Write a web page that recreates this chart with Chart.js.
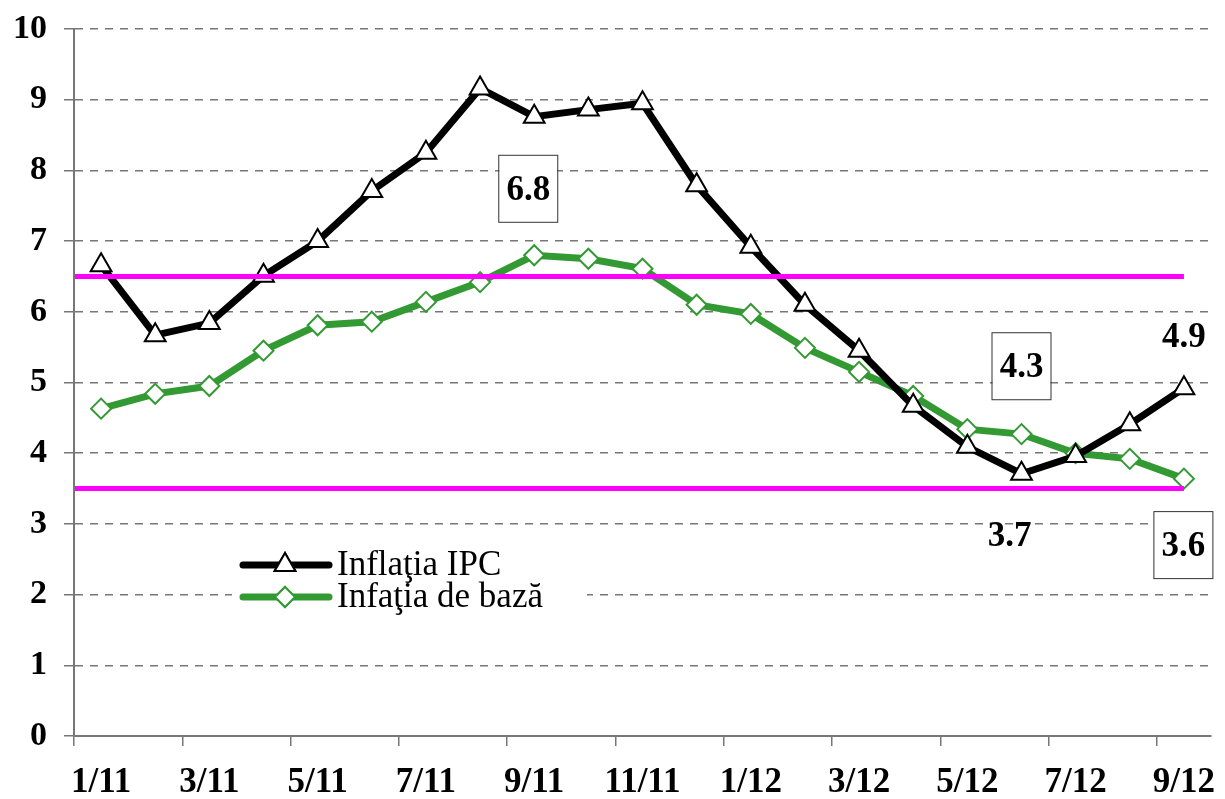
<!DOCTYPE html>
<html>
<head>
<meta charset="utf-8">
<script src="https://cdn.jsdelivr.net/npm/chart.js@4.4.1/dist/chart.umd.min.js"></script>
<style>
  html, body { margin: 0; padding: 0; background: #fff; }
  #wrap { width: 1225px; height: 799px; }
</style>
</head>
<body>
<div id="wrap"><canvas id="myChart" width="1225" height="799"></canvas></div>
<script>
// luni (ianuarie 2011 - septembrie 2012)
const months = ['1/11','2/11','3/11','4/11','5/11','6/11','7/11','8/11','9/11','10/11','11/11','12/11',
                '1/12','2/12','3/12','4/12','5/12','6/12','7/12','8/12','9/12'];
// inflatia IPC
const ipcValues = [6.66, 5.67, 5.84, 6.51, 7.00, 7.71, 8.25, 9.16, 8.76, 8.86, 8.95, 7.79,
                   6.92, 6.10, 5.45, 4.67, 4.09, 3.71, 3.96, 4.41, 4.92];
// inflatia de baza
const coreValues = [4.63, 4.84, 4.95, 5.45, 5.81, 5.86, 6.14, 6.42, 6.80, 6.75, 6.61, 6.10,
                    5.97, 5.49, 5.15, 4.81, 4.34, 4.27, 4.00, 3.92, 3.64];
// intervalul tinta
const targetBand = [3.5, 6.5];
const yTicks = [0, 1, 2, 3, 4, 5, 6, 7, 8, 9, 10];
const seriesNames = ['Inflaţia IPC', 'Infaţia de bază'];
// etichete: text, pozitie (luna, valoare), cu chenar sau nu
const noteTexts = ['6.8', '4.3', '3.6', '3.7', '4.9'];
const noteAt = [[7.89, 7.74], [17.0, 5.23], [19.99, 2.70], [16.78, 2.84], [20.0, 5.66]];
const noteBoxed = [true, true, true, false, false];

const FONT = '"Liberation Serif", "Times New Roman", serif';
const GREEN = '#339933';

const extras = {
  id: 'extras',
  afterDatasetsDraw(chart) {
    const ctx = chart.ctx, x = chart.scales.x, y = chart.scales.y;
    ctx.save();
    ctx.strokeStyle = '#ff00ff';
    ctx.lineWidth = 5;
    targetBand.forEach(v => {
      const py = y.getPixelForValue(v);
      ctx.beginPath();
      ctx.moveTo(chart.chartArea.left + 1, py);
      ctx.lineTo(x.getPixelForValue(months.length - 1), py);
      ctx.stroke();
    });
    ctx.restore();
  },
  afterDraw(chart) {
    const ctx = chart.ctx, x = chart.scales.x, y = chart.scales.y;
    ctx.save();
    // etichete
    ctx.font = 'bold 35px ' + FONT;
    ctx.textAlign = 'center';
    ctx.textBaseline = 'middle';
    noteTexts.forEach((t, i) => {
      const cx = x.getPixelForValue(noteAt[i][0]);
      const cy = y.getPixelForValue(noteAt[i][1]);
      if (noteBoxed[i]) {
        ctx.fillStyle = '#fff';
        ctx.fillRect(cx - 29, cy - 33, 58, 66);
        ctx.strokeStyle = '#333';
        ctx.lineWidth = 1;
        ctx.strokeRect(cx - 29.5, cy - 33.5, 59, 67);
      }
      ctx.fillStyle = '#000';
      ctx.fillText(t, cx, cy + 2);
    });

    // legenda
    ctx.fillStyle = '#fff';
    ctx.fillRect(232, 537, 355, 80);
    const rows = [
      { y: 565, color: '#000', style: 'triangle' },
      { y: 597, color: GREEN, style: 'rectRot' }
    ];
    rows.forEach((r, i) => {
      ctx.strokeStyle = r.color;
      ctx.lineWidth = 7;
      ctx.lineCap = 'round';
      ctx.beginPath();
      ctx.moveTo(243, r.y);
      ctx.lineTo(329, r.y);
      ctx.stroke();
      ctx.fillStyle = '#fff';
      ctx.lineWidth = 2;
      Chart.helpers.drawPoint(ctx, { pointStyle: r.style, radius: r.style === 'triangle' ? 12 : 10, borderWidth: 2, rotation: 0 }, 285, r.y);
      ctx.fill();
      ctx.stroke();
      ctx.fillStyle = '#000';
      ctx.font = '35px ' + FONT;
      ctx.textAlign = 'left';
      ctx.fillText(seriesNames[i], 337, r.y + 1);
    });
    ctx.restore();
  }
};

new Chart(document.getElementById('myChart'), {
  type: 'line',
  data: {
    labels: months,
    datasets: [{
      label: seriesNames[0],
      data: ipcValues,
      borderColor: '#000',
      borderWidth: 7,
      pointStyle: 'triangle',
      pointRadius: 12,
      pointBorderWidth: 2,
      pointBackgroundColor: '#fff',
      pointBorderColor: '#000',
      tension: 0
    }, {
      label: seriesNames[1],
      data: coreValues,
      borderColor: GREEN,
      borderWidth: 7,
      pointStyle: 'rectRot',
      pointRadius: 10,
      pointBorderWidth: 2,
      pointBackgroundColor: '#fff',
      pointBorderColor: GREEN,
      tension: 0
    }]
  },
  options: {
    responsive: false,
    animation: false,
    layout: { padding: { top: 29, right: 9, left: 0, bottom: 0 } },
    plugins: {
      legend: { display: false },
      tooltip: { enabled: false }
    },
    scales: {
      x: {
        offset: true,
        grid: {
          offset: true,
          drawOnChartArea: false,
          drawTicks: true,
          tickLength: 10,
          lineWidth: 1.5,
          color: (c) => (c.index % 2 === 0 ? '#777' : 'rgba(0,0,0,0)')
        },
        border: { color: '#777', width: 2 },
        ticks: {
          autoSkip: false,
          maxRotation: 0,
          padding: 16,
          color: '#000',
          font: { family: FONT, size: 35, weight: 'bold' },
          callback: (v, i) => (i % 2 === 0 ? months[i] : '')
        },
        afterFit: (s) => { s.height = 63; s.paddingLeft = 0; s.paddingRight = 0; }
      },
      y: {
        min: 0,
        max: 10,
        afterBuildTicks: (s) => { s.ticks = yTicks.map(v => ({ value: v })); },
        grid: {
          color: '#777',
          lineWidth: 1.5,
          tickLength: 10,
          tickBorderDash: [],
          tickColor: '#777'
        },
        border: { color: '#777', width: 2, dash: [8, 7] },
        ticks: {
          padding: 17,
          color: '#000',
          font: { family: FONT, size: 34, weight: 'bold' }
        },
        afterFit: (s) => { s.width = 74; s.paddingTop = 0; s.paddingBottom = 0; }
      }
    }
  },
  plugins: [extras]
});
</script>
</body>
</html>
